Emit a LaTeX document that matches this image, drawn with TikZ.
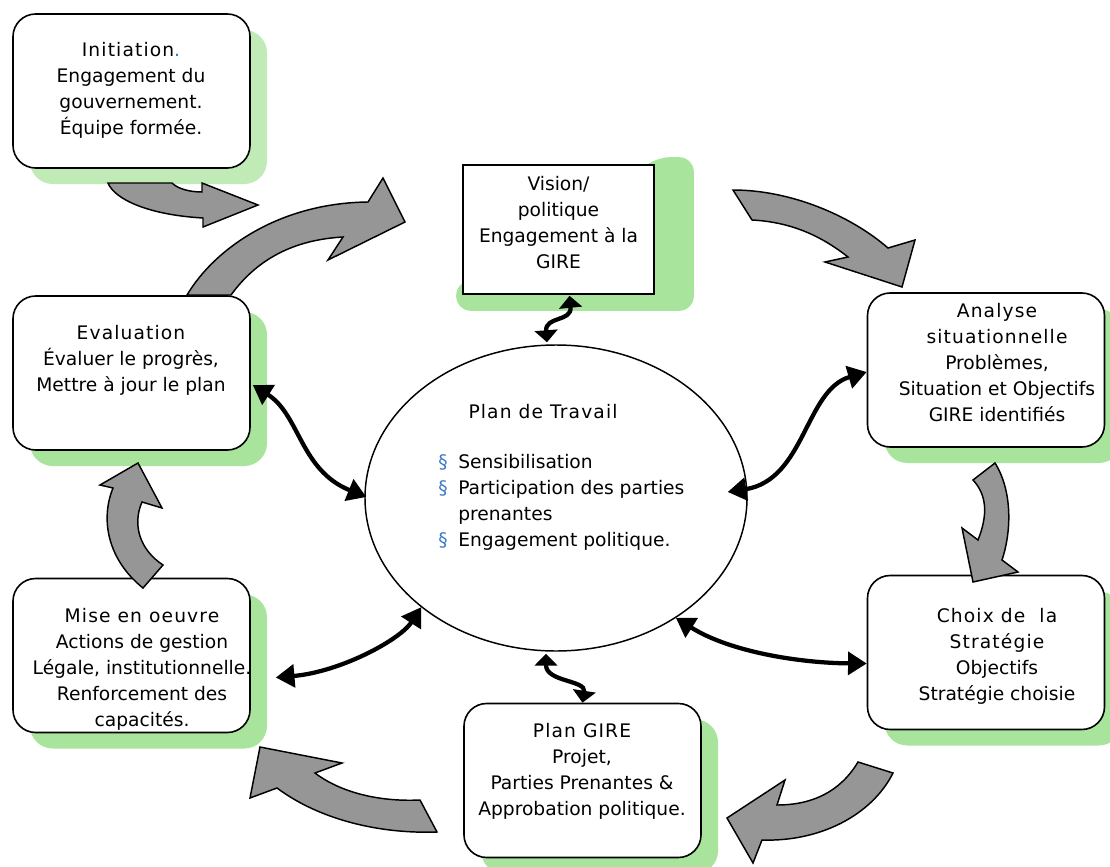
\documentclass[tikz,border=0pt]{standalone}
\usepackage{fontspec}
\setmainfont{DejaVu Sans}
\usepackage{xcolor}
\usetikzlibrary{calc, positioning, shapes.geometric, shadows, arrows.meta}
\pgfdeclarelayer{bg}
\pgfsetlayers{bg,main}

\definecolor{leafgreen}{RGB}{168,228,156}
\definecolor{palegreen}{RGB}{192,235,183}
\definecolor{blockgray}{RGB}{150,150,150}
\definecolor{bulletblue}{RGB}{60,120,200}

\newcommand{\stagehead}[1]{{\addfontfeature{LetterSpace=6}#1}}

\tikzset{
	card/.style={draw, fill=white, line width=1.2pt, rounded corners=17pt,
		minimum width=177.75pt, minimum height=115.5pt, inner sep=0pt,
		general shadow={fill=#1, shadow xshift=12.75pt, shadow yshift=-12pt}},
	card/.default=leafgreen,
	cardtext/.style={align=center, inner sep=0pt},
	blockarrow/.style={fill=blockgray, draw=black, line width=1.1pt, line join=miter},
	link/.style={line width=3.2pt, {Triangle[length=14pt,width=17pt]}-{Triangle[length=14pt,width=17pt]}},
	shortlink/.style={line width=3.2pt, {Triangle[length=9pt,width=17pt]}-{Triangle[length=9pt,width=17pt]}}
}

\begin{document}
\begin{tikzpicture}
			[x=0.75pt, y=-0.75pt, font=\fontsize{14}{19.5}\selectfont]
		\useasboundingbox (0,0) rectangle (1110,867);
		\clip (0,0) rectangle (1110,867);

		% stages %
		\node[card=palegreen] (init) at (131.5,91) {};
		\node[card] (eval) at (131.5,373) {};
		\node[card] (mise) at (131.5,655.5) {};
		\node[card] (ana) at (986,370) {};
		\node[card] (choix) at (986,652.5) {};
		\node[card] (pgire) at (582.5,780.5) {};
		\node[draw, fill=white, line width=1.2pt, minimum width=143.25pt, minimum height=96.75pt] (vis) at (558.5,229.5) {};
		\begin{pgfonlayer}{bg}
			\fill[leafgreen, rounded corners=11pt] ($(vis.north east)+(0,-7)$) -- ($(vis.north east)+(39,-7)$)
				-- ($(vis.south east)+(39,16)$) -- ($(vis.south west)+(-6,16)$)
				-- ($(vis.south west)+(-6,-14)$) -- ($(vis.south east)+(-30,-14)$) -- ($(vis.north east)+(-30,20)$) -- cycle;
		\end{pgfonlayer}
		\node[draw, ellipse, line width=1.1pt, minimum width=286.5pt, minimum height=229.5pt, inner sep=0pt] (plan) at (556,498) {};

		% texts %
		\node[cardtext] (inittxt) at (131,90.5) {\stagehead{Initiation}\textcolor{bulletblue}{.}\\Engagement du\\gouvernement.\\Équipe formée.};
		\node[cardtext] (evaltxt) at (131,360.5) {\stagehead{Evaluation}\\Évaluer le progrès,\\Mettre à jour le plan};
		\node[cardtext] (misetxt) at (142,669.5) {\stagehead{Mise en oeuvre}\\Actions de gestion\\Légale, institutionnelle.\\Renforcement des\\capacités.};
		\node[cardtext] (anatxt) at (997,363) {\stagehead{Analyse}\\\stagehead{situationnelle}\\Problèmes,\\Situation et Objectifs\\GIRE identifiés};
		\node[cardtext] (choixtxt) at (997,656) {\stagehead{Choix de\ \ la}\\\stagehead{Stratégie}\\Objectifs\\Stratégie choisie};
		\node[cardtext] (pgiretxt) at (582,771) {\stagehead{Plan GIRE}\\Projet,\\Parties Prenantes \&\\Approbation politique.};
		\node[cardtext] (vistxt) at (558.5,223) {Vision/\\politique\\Engagement à la\\GIRE};
		\node[cardtext] (plantitle) at (543,412) {\stagehead{Plan de Travail}};
		\node[cardtext, anchor=west] (planlist) at (438,502.5) {\begin{tabular}{@{}l@{\hspace{8pt}}l@{}}
			\textcolor{bulletblue}{\S} & Sensibilisation\\
			\textcolor{bulletblue}{\S} & Participation des parties\\
			 & prenantes\\
			\textcolor{bulletblue}{\S} & Engagement politique.
		\end{tabular}};

		% cycle arrows %
		\draw[blockarrow] (108,183) -- (172,183) .. controls (178,189) and (190,192) .. (202,192) -- (202,183) -- (258,205)
			-- (203,227) -- (203,218) .. controls (150,215) and (115,200) .. (108,183) -- cycle;
		\draw[blockarrow] (187,295) .. controls (215,248) and (280,203) .. (368,202) -- (383,178) -- (405,222)
			-- (328,260) -- (343,237) .. controls (290,240) and (255,262) .. (231,295) -- cycle;
		\draw[blockarrow] (733,190) .. controls (790,190) and (850,215) .. (888,248) -- (915,240) -- (902,287)
			-- (825,262) -- (848,257) .. controls (820,235) and (790,222) .. (752,220) -- cycle;
		\draw[blockarrow] (995,463) .. controls (1012,490) and (1012,530) .. (1002,560) -- (1018,572) -- (973,582)
			-- (962,528) -- (978,540) .. controls (988,515) and (987,495) .. (973,480) -- cycle;
		\draw[blockarrow] (858,762) .. controls (840,792) and (812,805) .. (777,805) -- (785,780) -- (727,818)
			-- (753,863) -- (762,840) .. controls (820,842) and (872,815) .. (893,773) -- cycle;
		\draw[blockarrow] (420,800) .. controls (378,802) and (340,792) .. (315,773) -- (342,763) -- (260,747)
			-- (250,798) -- (277,788) .. controls (320,820) and (380,834) .. (437,832) -- cycle;
		\draw[blockarrow] (143,588) .. controls (108,560) and (100,520) .. (113,488) -- (100,485) -- (138,463)
			-- (162,508) -- (142,502) .. controls (132,525) and (140,550) .. (163,565) -- cycle;

		% links %
		\draw[shortlink] ($(vis.south)+(11,1)$) .. controls (572,322) and (545,316) .. ($(plan.north)+(-9,-2)$);
		\draw[link] ($(eval.east)+(2,12)$) .. controls (300,415) and (300,470) .. ($(plan.west)+(2,-1)$);
		\draw[link] ($(ana.west)+(0,2)$) .. controls (805,390) and (805,480) .. ($(plan.east)+(-20,-6)$);
		\draw[link] ($(choix.west)+(0,11)$) .. controls (800,663) and (730,652) .. (plan.-45);
		\draw[shortlink] (pgire.north) .. controls (586,680) and (546,682) .. ($(plan.south)+(-10,2)$);
		\draw[link] ($(mise.east)+(25,22)$) .. controls (340,672) and (400,640) .. (plan.219);
		\end{tikzpicture}
\end{document}
